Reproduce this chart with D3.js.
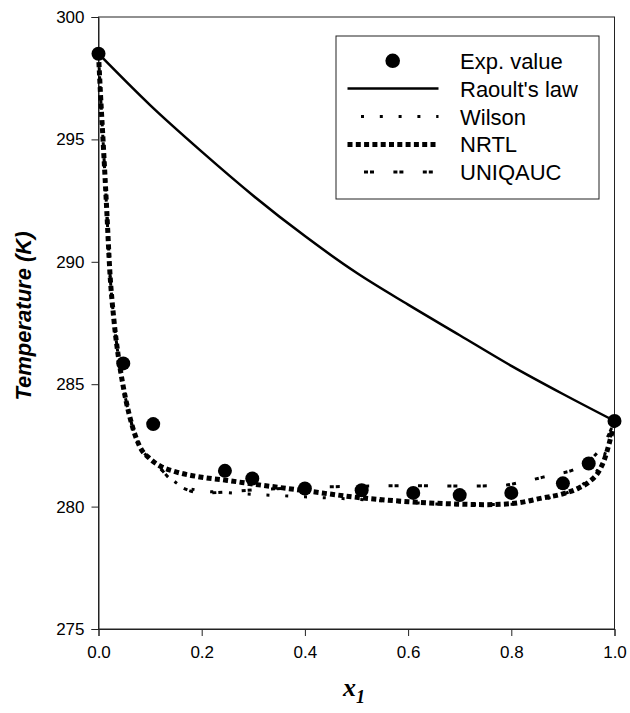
<!DOCTYPE html>
<html>
<head>
<meta charset="utf-8">
<script src="https://cdn.jsdelivr.net/npm/d3@7"></script>
<style>
  html, body { margin: 0; padding: 0; background: #fff; }
  svg { display: block; }
  text { font-family: "Liberation Sans", Arial, sans-serif; fill: #000; }
</style>
</head>
<body>
<svg id="chart" width="630" height="713"></svg>
<script>
// ---- Data ----
const expX = [0, 0.048, 0.106, 0.245, 0.298, 0.40, 0.51, 0.61, 0.70, 0.80, 0.90, 0.95, 1.0];
const expT = [298.5, 285.85, 283.37, 281.46, 281.15, 280.74, 280.67, 280.56, 280.47, 280.56, 280.95, 281.76, 283.5];

const raoultX = [0, 0.1, 0.2, 0.3, 0.4, 0.5, 0.6, 0.7, 0.8, 0.9, 1.0];
const raoultT = [298.5, 296.4, 294.5, 292.7, 291.05, 289.55, 288.25, 287.0, 285.75, 284.6, 283.5];

const wilsonX = [0, 0.004, 0.009, 0.016, 0.022, 0.03, 0.038, 0.048, 0.064, 0.08, 0.1, 0.12, 0.14, 0.16, 0.2, 0.25, 0.3, 0.35, 0.4, 0.5, 0.6, 0.7, 0.8, 0.86, 0.9, 0.93, 0.95, 0.97, 0.99, 1.0];
const wilsonT = [298.5, 296.8, 294.9, 292.1, 289.6, 287.6, 286.2, 284.9, 283.4, 282.45, 281.95, 281.55, 281.15, 280.85, 280.65, 280.57, 280.5, 280.45, 280.4, 280.3, 280.17, 280.08, 280.1, 280.3, 280.5, 280.8, 281.1, 281.6, 282.7, 283.5];

const nrtlX = [0, 0.004, 0.009, 0.016, 0.022, 0.03, 0.038, 0.048, 0.064, 0.08, 0.1, 0.12, 0.15, 0.2, 0.25, 0.3, 0.4, 0.5, 0.6, 0.7, 0.75, 0.8, 0.86, 0.9, 0.93, 0.95, 0.97, 0.98, 0.99, 1.0];
const nrtlT = [298.5, 296.8, 294.9, 292.1, 289.6, 287.6, 286.2, 284.9, 283.4, 282.45, 281.95, 281.65, 281.42, 281.2, 281.07, 280.92, 280.65, 280.38, 280.2, 280.1, 280.08, 280.12, 280.35, 280.52, 280.75, 281.0, 281.45, 281.9, 282.6, 283.5];

const uniquacX = [0, 0.004, 0.009, 0.016, 0.022, 0.03, 0.038, 0.048, 0.064, 0.08, 0.1, 0.12, 0.14, 0.17, 0.2, 0.25, 0.3, 0.4, 0.5, 0.6, 0.7, 0.78, 0.82, 0.88, 0.92, 0.95, 0.97, 0.99, 1.0];
const uniquacT = [298.5, 296.8, 294.9, 292.1, 289.6, 287.6, 286.2, 284.9, 283.4, 282.45, 281.95, 281.55, 281.1, 280.7, 280.55, 280.6, 280.68, 280.78, 280.83, 280.85, 280.84, 280.86, 281.0, 281.3, 281.5, 281.85, 282.3, 283.0, 283.5];

const xTicks = [0, 0.2, 0.4, 0.6, 0.8, 1.0];
const yTicks = [275, 280, 285, 290, 295, 300];
const legendLabels = ["Exp. value", "Raoult's law", "Wilson", "NRTL", "UNIQAUC"];

// ---- Layout ----
const svg = d3.select("#chart");
const X0 = 98.5, X1 = 614.5, Y0 = 629, Y1 = 17;
const x = d3.scaleLinear().domain([0, 1]).range([X0, X1]);
const y = d3.scaleLinear().domain([275, 300]).range([Y0, Y1]);

// frame
svg.append("rect").attr("x", X0).attr("y", Y1).attr("width", X1 - X0).attr("height", Y0 - Y1)
  .attr("fill", "none").attr("stroke", "#222").attr("stroke-width", 1);

// axes
const xAxis = d3.axisBottom(x).tickValues(xTicks).tickFormat(d3.format(".1f")).tickSize(7).tickPadding(10);
const yAxis = d3.axisLeft(y).tickValues(yTicks).tickFormat(d3.format("d")).tickSize(7).tickPadding(7);
const gx = svg.append("g").attr("transform", `translate(0,${Y0})`).call(xAxis);
const gy = svg.append("g").attr("transform", `translate(${X0},0)`).call(yAxis);
[gx, gy].forEach(g => {
  g.select(".domain").attr("stroke", "#222");
  g.selectAll(".tick line").attr("stroke", "#222");
  g.selectAll(".tick text").style("font-family", "'Liberation Sans', Arial, sans-serif").style("font-size", "17px").attr("fill", "#000");
});

// axis titles
svg.append("text")
  .attr("transform", `translate(31,316) rotate(-90)`)
  .attr("text-anchor", "middle")
  .style("font-size", "22px").style("font-weight", "bold").style("font-style", "italic")
  .text("Temperature (K)");

const xt = svg.append("text")
  .attr("x", 354).attr("y", 696)
  .attr("text-anchor", "middle")
  .style("font-family", "'Liberation Serif', 'Times New Roman', serif")
  .style("font-weight", "bold").style("font-style", "italic").style("font-size", "26px");
xt.append("tspan").text("x");
xt.append("tspan").attr("dy", 7).style("font-size", "18px").text("1");

// curves
const line = d3.line().x(d => x(d[0])).y(d => y(d[1])).curve(d3.curveMonotoneX);
const zip = (a, b) => a.map((v, i) => [v, b[i]]);

const styles = {
  raoult: { w: 2.5, dash: null, off: 0 },
  wilson: { w: 3, dash: "3,15.8", off: 5.3 },
  nrtl: { w: 5, dash: "5,3.3", off: 0 },
  uniquac: { w: 3, dash: "4,2,4,19.4", off: 12.9 }
};

function drawPath(data, st) {
  const p = svg.append("path").datum(data).attr("d", line)
    .attr("fill", "none").attr("stroke", "#000").attr("stroke-width", st.w);
  if (st.dash) p.attr("stroke-dasharray", st.dash).attr("stroke-dashoffset", st.off);
  return p;
}

drawPath(zip(raoultX, raoultT), styles.raoult);
drawPath(zip(uniquacX, uniquacT), styles.uniquac);
drawPath(zip(wilsonX, wilsonT), styles.wilson);
drawPath(zip(nrtlX, nrtlT), styles.nrtl);

svg.append("g").selectAll("circle").data(zip(expX, expT)).join("circle")
  .attr("cx", d => x(d[0])).attr("cy", d => y(d[1])).attr("r", 7).attr("fill", "#000");

// legend
const lg = svg.append("g");
lg.append("rect").attr("x", 336).attr("y", 36).attr("width", 263).attr("height", 163)
  .attr("fill", "#fff").attr("stroke", "#222").attr("stroke-width", 1);
const rowY = [60.8, 88.6, 116.6, 144.4, 172];
const lx0 = 347.5, lx1 = 438.5;
lg.append("circle").attr("cx", 392.7).attr("cy", rowY[0]).attr("r", 7.3).attr("fill", "#000");
const legStyles = [null, styles.raoult, styles.wilson, styles.nrtl, styles.uniquac];
for (let i = 1; i < 5; i++) {
  const st = legStyles[i];
  const l = lg.append("line").attr("x1", lx0).attr("x2", lx1).attr("y1", rowY[i]).attr("y2", rowY[i])
    .attr("stroke", "#000").attr("stroke-width", st.w);
  if (st.dash) l.attr("stroke-dasharray", st.dash).attr("stroke-dashoffset", st.off);
}
lg.selectAll("text.lab").data(legendLabels).join("text").attr("class", "lab")
  .attr("x", 460).attr("y", (d, i) => rowY[i] + 8)
  .style("font-size", "22px").text(d => d);
</script>
</body>
</html>
